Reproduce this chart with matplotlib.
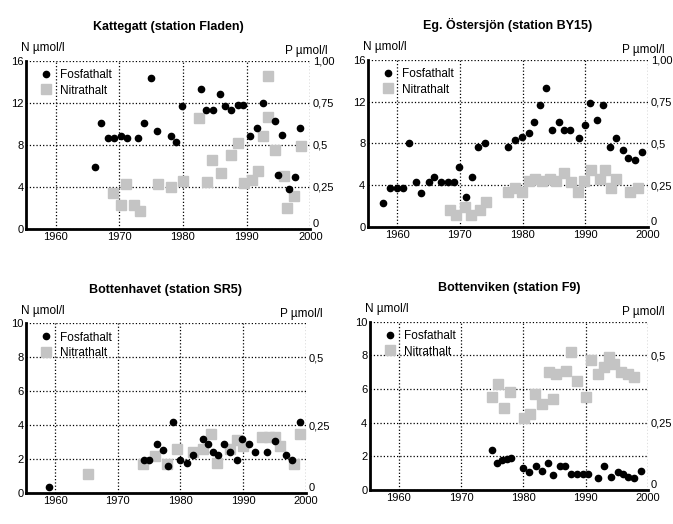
import numpy as np
import matplotlib.pyplot as plt

plt.rcParams['font.family'] = ['Liberation Sans', 'DejaVu Sans']
plt.rcParams['font.size'] = 8

# Kattegatt (station Fladen)
kat_p_ar = [1966.2, 1967.1, 1968.2, 1969.2, 1970.3, 1971.3, 1972.9, 1973.9, 1975.0, 1975.9,
            1978.2, 1978.9, 1979.9, 1982.9, 1983.7, 1984.7, 1985.8, 1986.6, 1987.6, 1988.7,
            1989.5, 1990.5, 1991.6, 1992.6, 1994.5, 1994.9, 1995.5, 1996.6, 1997.6, 1998.4]
kat_p = [0.37, 0.63, 0.54, 0.54, 0.55, 0.54, 0.54, 0.63, 0.90, 0.58,
         0.55, 0.52, 0.73, 0.83, 0.71, 0.71, 0.80, 0.73, 0.71, 0.74,
         0.74, 0.55, 0.60, 0.75, 0.64, 0.32, 0.56, 0.24, 0.31, 0.60]
kat_n_ar = [1969.1, 1970.3, 1971.1, 1972.3, 1973.3, 1976.1, 1978.1, 1980.0, 1982.6, 1983.8,
            1984.6, 1986.0, 1987.5, 1988.6, 1989.6, 1990.8, 1991.8, 1992.6, 1993.4, 1993.4,
            1994.5, 1995.8, 1996.4, 1997.5, 1998.5]
kat_n = [3.4, 2.3, 4.3, 2.3, 1.7, 4.3, 4.0, 4.6, 10.6, 4.5,
         6.6, 5.3, 7.0, 8.2, 4.4, 4.7, 5.5, 8.8, 10.7, 14.6,
         7.5, 5.0, 2.0, 3.1, 7.9]

# Eg. Östersjön (station BY15)
ost_p_ar = [1957.8, 1958.9, 1960.0, 1960.9, 1961.9, 1963.0, 1963.9, 1965.1, 1965.9, 1967.0,
            1968.1, 1969.1, 1969.8, 1971.0, 1972.0, 1972.9, 1974.0, 1977.7, 1978.8, 1979.9,
            1981.0, 1981.9, 1982.8, 1983.7, 1984.7, 1985.8, 1986.6, 1987.6, 1989.0, 1989.9,
            1990.8, 1991.9, 1992.8, 1993.9, 1994.9, 1996.0, 1996.8, 1997.9, 1999.0]
ost_p = [0.14, 0.23, 0.23, 0.23, 0.50, 0.27, 0.20, 0.27, 0.30, 0.27,
         0.27, 0.27, 0.36, 0.18, 0.30, 0.48, 0.50, 0.48, 0.52, 0.54,
         0.56, 0.63, 0.73, 0.83, 0.58, 0.63, 0.58, 0.58, 0.53, 0.61,
         0.74, 0.64, 0.73, 0.48, 0.53, 0.46, 0.41, 0.40, 0.45]
ost_n_ar = [1968.4, 1969.4, 1970.8, 1971.8, 1973.2, 1974.2, 1977.7, 1978.8, 1979.9, 1981.0,
            1982.0, 1983.1, 1984.4, 1985.4, 1986.6, 1987.7, 1988.8, 1989.8, 1990.9, 1992.3,
            1993.1, 1994.1, 1994.9, 1997.1, 1998.4]
ost_n = [1.6, 1.1, 1.9, 1.1, 1.6, 2.4, 3.3, 3.7, 3.3, 4.4,
         4.6, 4.4, 4.6, 4.4, 5.2, 4.3, 3.3, 4.4, 5.4, 4.6,
         5.4, 3.7, 4.6, 3.3, 3.7]

# Bottenhavet (station SR5)
bh_p_ar = [1959.1, 1974.2, 1975.0, 1976.2, 1977.2, 1978.1, 1978.9, 1980.0, 1981.0, 1982.0,
           1983.7, 1984.5, 1985.3, 1986.1, 1987.0, 1988.0, 1989.0, 1989.9, 1991.0, 1992.0,
           1993.9, 1995.2, 1996.8, 1997.9, 1999.1]
bh_p = [0.024, 0.12, 0.12, 0.18, 0.16, 0.10, 0.26, 0.12, 0.11, 0.14,
        0.20, 0.18, 0.15, 0.14, 0.18, 0.15, 0.12, 0.20, 0.18, 0.15,
        0.15, 0.19, 0.14, 0.12, 0.26]
bh_n_ar = [1965.2, 1974.1, 1976.0, 1977.9, 1979.4, 1982.0, 1983.7, 1984.9, 1985.9, 1988.0,
           1989.1, 1990.0, 1993.0, 1994.1, 1995.1, 1995.9, 1998.1, 1999.1]
bh_n = [1.1, 1.7, 2.2, 1.7, 2.6, 2.4, 2.6, 3.5, 1.8, 2.6,
        3.1, 2.8, 3.3, 3.3, 3.3, 2.8, 1.7, 3.5]

# Bottenviken (station F9)
bv_p_ar = [1975.0, 1975.7, 1976.6, 1977.3, 1978.0, 1980.0, 1980.9, 1982.0, 1982.9, 1983.9,
           1984.8, 1985.9, 1986.6, 1987.6, 1988.6, 1989.5, 1990.4, 1991.9, 1992.9, 1994.0,
           1995.1, 1996.0, 1996.8, 1997.8, 1998.9]
bv_p = [0.15, 0.10, 0.11, 0.115, 0.12, 0.08, 0.066, 0.09, 0.07, 0.10,
        0.056, 0.09, 0.09, 0.06, 0.06, 0.06, 0.06, 0.044, 0.09, 0.047,
        0.066, 0.06, 0.047, 0.044, 0.07]
bv_n_ar = [1975.0, 1975.9, 1976.9, 1977.8, 1980.1, 1981.0, 1981.8, 1982.9, 1984.1, 1984.8,
           1985.2, 1986.8, 1987.7, 1988.6, 1990.1, 1990.9, 1991.9, 1993.0, 1993.8, 1994.6,
           1995.6, 1996.8, 1997.8]
bv_n = [5.5, 6.3, 4.9, 5.8, 4.3, 4.5, 5.7, 5.1, 7.0, 5.4,
        6.9, 7.1, 8.2, 6.5, 5.5, 7.7, 6.9, 7.3, 7.9, 7.5,
        7.0, 6.9, 6.7]

x_ticks = [1960, 1970, 1980, 1990, 2000]

paneler = [
    ("Kattegatt (station Fladen)", [0.039, 0.563, 0.422, 0.321], 16, [0, 4, 8, 12, 16],
     ["0", "0,25", "0,5", "0,75", "1,00"], kat_p_ar, kat_p, kat_n_ar, kat_n),
    ("Eg. Östersjön (station BY15)", [0.547, 0.567, 0.416, 0.319], 16, [0, 4, 8, 12, 16],
     ["0", "0,25", "0,5", "0,75", "1,00"], ost_p_ar, ost_p, ost_n_ar, ost_n),
    ("Bottenhavet (station SR5)", [0.039, 0.059, 0.415, 0.324], 10, [0, 2, 4, 6, 8, 10],
     ["0", "0,25", "0,5"], bh_p_ar, bh_p, bh_n_ar, bh_n),
    ("Bottenviken (station F9)", [0.55, 0.065, 0.413, 0.321], 10, [0, 2, 4, 6, 8, 10],
     ["0", "0,25", "0,5"], bv_p_ar, bv_p, bv_n_ar, bv_n),
]

fig = plt.figure(figsize=(6.73, 5.24), dpi=100)

for titel, pos, nmax, n_ticks, p_labels, p_ar, p, n_ar, n in paneler:
    ax = fig.add_axes(pos)
    ax2 = ax.twinx()
    ax.set_xlim(1955.4, 2000)
    ax.set_ylim(0, nmax)
    ax2.set_ylim(0, nmax / 16)
    ax.set_xticks(x_ticks)
    ax.set_yticks(n_ticks)
    ax2.set_yticks([0.25 * i for i in range(len(p_labels))])
    ax2.set_yticklabels(p_labels)
    # the right-hand zero sits just above the corner so it clears "2000"
    ax2.get_yticklabels()[0].set_va('bottom')
    ax.grid(True, linestyle=':', color='black', linewidth=0.9)

    for a in (ax, ax2):
        a.spines['top'].set_visible(False)
        a.spines['right'].set_visible(False)
        a.tick_params(length=0, labelsize=8, pad=2)
    ax2.spines['left'].set_visible(False)
    ax2.spines['bottom'].set_visible(False)
    ax.spines['left'].set_linewidth(2)
    ax.spines['bottom'].set_linewidth(2)

    ln = ax.plot(n_ar, n, 's', color='#c4c4c4', markersize=7, label="Nitrathalt")
    lp = ax2.plot(p_ar, p, 'o', color='black', markersize=4.5, label="Fosfathalt")
    ax2.legend(lp + ln, ["Fosfathalt", "Nitrathalt"], loc='upper left', frameon=False,
               fontsize=8.5, handletextpad=0.2, borderaxespad=0.3, labelspacing=0.3)

    ax.set_title(titel, fontsize=9, fontweight='bold', pad=22)
    ax.text(-0.02, 1.04, "N µmol/l", transform=ax.transAxes, fontsize=8.5, ha='left', va='bottom')
    ax2.text(1.06, 1.02, "P µmol/l", transform=ax.transAxes, fontsize=8.5, ha='right', va='bottom')

fig.savefig("out.png", dpi=100)
